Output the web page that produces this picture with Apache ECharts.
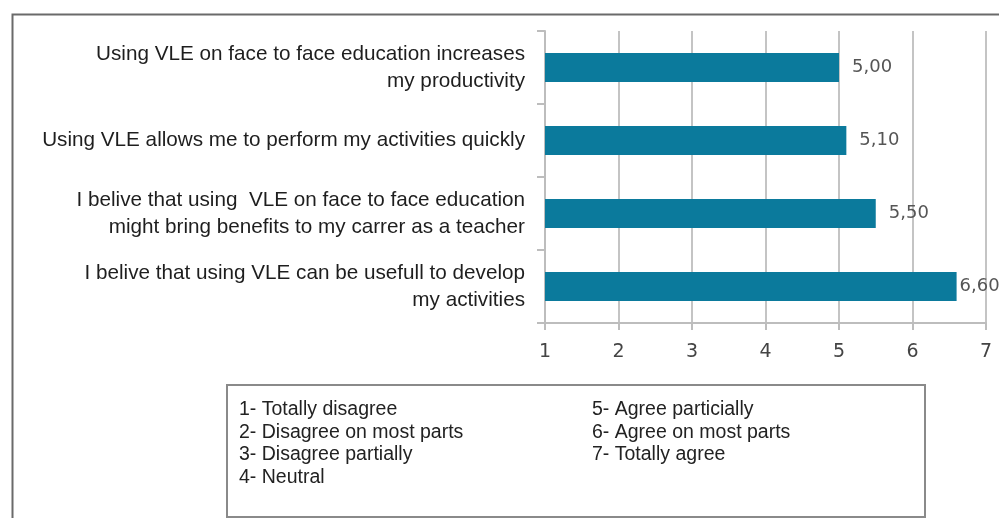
<!DOCTYPE html>
<html>
<head>
<meta charset="utf-8">
<script src="https://cdn.jsdelivr.net/npm/echarts@6/dist/echarts.min.js"></script>
<style>
html,body{margin:0;padding:0;background:#fff;}
#chart{width:999px;height:518px;}
</style>
</head>
<body>
<div id="chart"></div>
<script>
var categories = [
  "Using VLE on face to face education increases\nmy productivity",
  "Using VLE allows me to perform my activities quickly",
  "I belive that using  VLE on face to face education\nmight bring benefits to my carrer as a teacher",
  "I belive that using VLE can be usefull to develop\nmy activities"
];
var values = [5.00, 5.10, 5.50, 6.60];
var xTicks = [1, 2, 3, 4, 5, 6, 7];
var scaleLeft = [
  "1- Totally disagree",
  "2- Disagree on most parts",
  "3- Disagree partially",
  "4- Neutral"
];
var scaleRight = [
  "5- Agree particially",
  "6- Agree on most parts",
  "7- Totally agree"
];

var chart = echarts.init(document.getElementById('chart'), null, {renderer: 'canvas'});

var textFont = 'Liberation Sans, Arial, Helvetica, sans-serif';
var numFont = 'DejaVu Sans, sans-serif';

var legendText = function (lines, x) {
  return {
    type: 'text',
    left: x,
    top: 398,
    z: 101,
    style: {
      text: lines.join('\n'),
      font: '19.5px ' + textFont,
      fill: '#222',
      lineHeight: 22.8
    }
  };
};

// labels near the right edge sit closer to their bar (as the spreadsheet did)
var barData = values.map(function (v) {
  return v > 6.3 ? {value: v, label: {distance: 3}} : v;
});

var option = {
  animation: false,
  backgroundColor: '#fff',
  grid: {left: 545, right: 13, top: 31, bottom: 195, containLabel: false},
  xAxis: {
    type: 'value',
    min: xTicks[0],
    max: xTicks[xTicks.length - 1],
    interval: 1,
    axisLine: {show: true, lineStyle: {color: '#bdbdbd', width: 2}},
    axisTick: {show: true, length: 7, lineStyle: {color: '#bdbdbd', width: 2}},
    splitLine: {show: true, lineStyle: {color: '#c4c4c4', width: 2}},
    axisLabel: {
      margin: 20,
      color: '#444',
      fontFamily: numFont,
      fontSize: 19,
      formatter: function (v) { return String(v); }
    }
  },
  yAxis: {
    type: 'category',
    inverse: true,
    data: categories,
    axisLine: {show: true, lineStyle: {color: '#bdbdbd', width: 2}},
    axisTick: {show: true, length: 8, lineStyle: {color: '#bdbdbd', width: 2}},
    axisLabel: {
      margin: 20,
      color: '#1e1e1e',
      fontFamily: textFont,
      fontSize: 20.7,
      lineHeight: 27,
      align: 'right',
      padding: [0, 0, 4, 0]
    }
  },
  series: [{
    type: 'bar',
    data: barData,
    barWidth: 29,
    itemStyle: {color: '#0b7a9c'},
    label: {
      show: true,
      position: 'right',
      distance: 13,
      color: '#555',
      fontFamily: numFont,
      fontSize: 18,
      formatter: function (p) { return p.value.toFixed(2).replace('.', ','); }
    }
  }],
  graphic: [
    {
      type: 'rect',
      left: 10, top: 12,
      shape: {x: 0, y: 0, width: 1100, height: 600},
      style: {fill: 'none', stroke: '#6a6a6a', lineWidth: 2},
      z: 100
    },
    {
      type: 'rect',
      left: 226, top: 384,
      shape: {x: 0, y: 0, width: 698, height: 132},
      style: {fill: '#fff', stroke: '#8a8a8a', lineWidth: 2},
      z: 100
    },
    legendText(scaleLeft, 239),
    legendText(scaleRight, 592)
  ]
};
chart.setOption(option);
</script>
</body>
</html>
